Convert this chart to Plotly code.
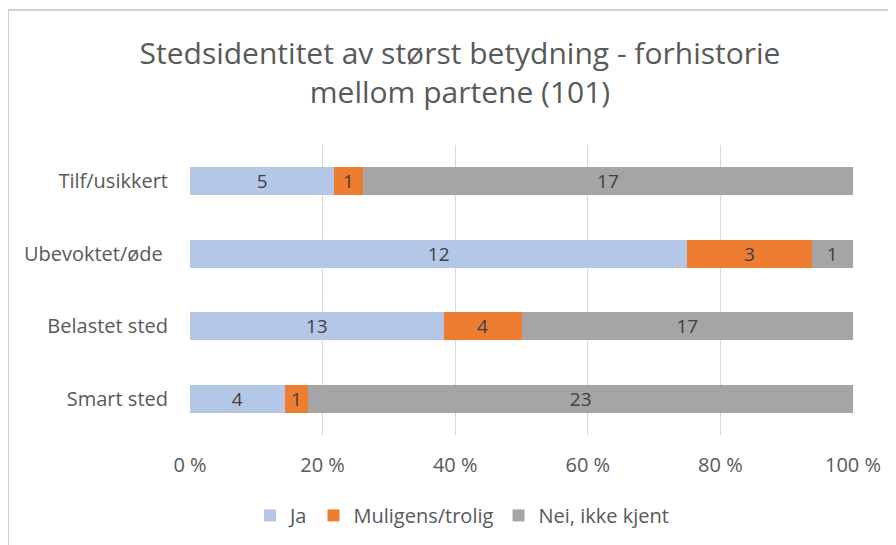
import plotly.graph_objects as go

categories = ["Smart sted", "Belastet sted", "Ubevoktet/øde\u00a0", "Tilf/usikkert"]
ja = [4, 13, 12, 5]
muligens = [1, 4, 3, 1]
nei = [23, 17, 1, 17]
series_names = ["Ja", "Muligens/trolig", "Nei, ikke kjent"]
colors = ["#B4C7E7", "#ED7D31", "#A5A5A5"]
x_ticks = [0, 20, 40, 60, 80, 100]
x_ticktext = ["0 %", "20 %", "40 %", "60 %", "80 %", "100 %"]

FONT = "Open Sans"
# page body has an 8px offset; plot area target: x 190-853, y 145-435 in screenshot
OFF = 8
L, R, T, B = 190 - OFF, 896 - (853 - OFF), 145 - OFF, 545 - (435 - OFF)

fig = go.Figure()
for name, vals, col in zip(series_names, [ja, muligens, nei], colors):
    fig.add_trace(go.Bar(
        y=categories, x=vals, name=name, orientation="h",
        marker=dict(color=col, line=dict(width=0)),
        text=vals, textposition="inside", insidetextanchor="middle", textangle=0,
        textfont=dict(family=FONT, size=19, color="#404040"),
        constraintext="none",
    ))

fx0 = (8 - 190) / 663
fy1 = (435 - 10) / 290
frame = dict(color="#D0D0D0", width=2)
fig.update_layout(
    width=896, height=545,
    barmode="stack", barnorm="percent", bargap=0.61,
    paper_bgcolor="white", plot_bgcolor="white",
    margin=dict(l=L, r=R, t=T, b=B),
    title=dict(text="Stedsidentitet av størst betydning - forhistorie<br>mellom partene (101)",
               x=(460 - OFF) / 896, xanchor="center", y=1 - 56 / 545, yanchor="top",
               font=dict(family=FONT, size=30, color="#595959")),
    font=dict(family=FONT, color="#595959", size=19),
    legend=dict(orientation="h", x=(462 - 190) / 663, xanchor="center",
                y=-0.21, yanchor="top", itemwidth=30,
                font=dict(size=20, color="#595959"), traceorder="normal"),
    xaxis=dict(range=[0, 100], tickvals=x_ticks, ticktext=x_ticktext,
               showgrid=True, gridcolor="#D9D9D9", gridwidth=1.3, zeroline=False,
               showline=False, ticks="", ticklabelstandoff=16,
               tickfont=dict(size=20, color="#595959")),
    yaxis=dict(showgrid=False, showline=False, ticks="", ticklabelstandoff=21,
               tickfont=dict(size=20, color="#595959")),
    shapes=[
        dict(type="line", xref="paper", yref="paper", x0=fx0, x1=1.3, y0=fy1, y1=fy1,
             line=frame, layer="below"),
        dict(type="line", xref="paper", yref="paper", x0=fx0, x1=fx0, y0=fy1, y1=-0.6,
             line=frame, layer="below"),
    ],
)
fig.write_html("out.html")
